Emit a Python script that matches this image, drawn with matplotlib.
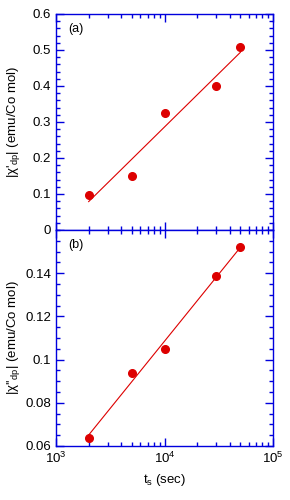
import numpy as np
import matplotlib
matplotlib.use("Agg")
import matplotlib.pyplot as plt
from matplotlib.ticker import MultipleLocator, LogLocator, NullFormatter

plt.rcParams['font.family'] = ['Liberation Sans', 'DejaVu Sans']
plt.rcParams['mathtext.fontset'] = 'custom'
plt.rcParams['mathtext.rm'] = 'Liberation Sans'
plt.rcParams['mathtext.it'] = 'Liberation Sans'
plt.rcParams['mathtext.sf'] = 'Liberation Sans'

ts = [2000, 5000, 10000, 30000, 50000]
chi1 = [0.096, 0.151, 0.326, 0.401, 0.509]
chi2 = [0.0638, 0.0939, 0.1050, 0.1388, 0.1520]

blue = '#0000DD'
red = '#DD0000'
fs = 9.5

fig = plt.figure(figsize=(2.9, 5.0), dpi=100)
ax1 = fig.add_axes([56/290, 270/500, 217/290, 216/500])
ax2 = fig.add_axes([56/290, 54/500, 217/290, 216/500])

def style(ax):
    ax.set_xscale('log')
    ax.set_xlim(1e3, 1e5)
    for s in ax.spines.values():
        s.set_color(blue)
        s.set_linewidth(1.0)
    ax.tick_params(which='both', direction='in', top=True, right=True,
                   color=blue, labelsize=fs, width=1.0)
    ax.tick_params(which='major', length=6)
    ax.tick_params(which='minor', length=3)
    ax.xaxis.set_major_locator(LogLocator(base=10, numticks=10))
    ax.xaxis.set_minor_locator(LogLocator(base=10, subs=np.arange(2, 10), numticks=10))
    ax.xaxis.set_minor_formatter(NullFormatter())

for ax, y, lab in [(ax1, chi1, "(a)"), (ax2, chi2, "(b)")]:
    style(ax)
    lx = np.log10(ts)
    p = np.polyfit(lx, y, 1)
    xf = np.array([ts[0], ts[-1]])
    ax.plot(xf, np.polyval(p, np.log10(xf)), color=red, lw=0.8)
    ax.plot(ts, y, 'o', color=red, ms=5.5, mec=red)
    ax.text(0.055, 0.93, lab, transform=ax.transAxes, fontsize=fs - 0.5, va='center')

ax1.set_ylim(0, 0.6)
ax1.set_yticks([0, 0.1, 0.2, 0.3, 0.4, 0.5, 0.6])
ax1.set_yticklabels(['0', '0.1', '0.2', '0.3', '0.4', '0.5', '0.6'])
ax1.yaxis.set_minor_locator(MultipleLocator(0.02))
ax1.tick_params(axis='x', labelbottom=False)
ax1.set_ylabel("|χ'$_{\\rm dp}$| (emu/Co mol)", fontsize=fs)

ax2.set_ylim(0.06, 0.16)
ax2.set_yticks([0.06, 0.08, 0.1, 0.12, 0.14])
ax2.set_yticklabels(['0.06', '0.08', '0.1', '0.12', '0.14'])
ax2.yaxis.set_minor_locator(MultipleLocator(0.005))
ax2.set_ylabel("|χ''$_{\\rm dp}$| (emu/Co mol)", fontsize=fs)
ax2.set_xlabel("t$_{\\rm s}$ (sec)", fontsize=fs)

for ax in (ax1, ax2):
    ax.yaxis.set_label_coords(-0.155, 0.5)

fig.savefig("out.png", dpi=100)
